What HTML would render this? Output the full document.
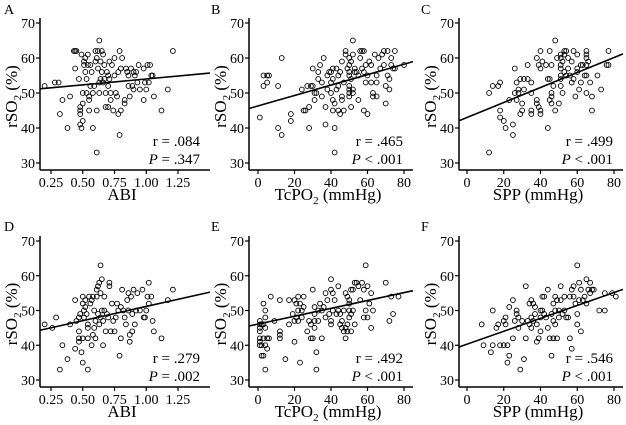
<!DOCTYPE html>
<html><head><meta charset="utf-8">
<style>
html,body{margin:0;padding:0;background:#fff;}
svg{display:block;font-family:"Liberation Serif",serif;}
</style></head>
<body>
<svg id="chart" width="626" height="425" viewBox="0 0 626 425" xmlns="http://www.w3.org/2000/svg"></svg>
<script>
// ---- data ----
const ptsA = [[0.2,52],[0.28,53],[0.31,53],[0.32,44],[0.34,48],[0.38,40],[0.40,49],[0.43,62],[0.44,62],[0.44,57],[0.45,62],[0.47,54],[0.48,46],[0.48,45],[0.48,44],[0.48,41],[0.49,40],[0.49,61],[0.50,50],[0.50,47],[0.50,42],[0.51,59],[0.51,58],[0.52,60],[0.52,56],[0.53,54],[0.53,50],[0.54,61],[0.54,58],[0.55,49],[0.55,48],[0.55,45],[0.56,58],[0.56,52],[0.57,56],[0.58,40],[0.58,50],[0.59,52],[0.60,62],[0.60,59],[0.61,60],[0.61,45],[0.61,33],[0.62,62],[0.62,57],[0.63,65],[0.63,53],[0.63,50],[0.64,59],[0.64,54],[0.65,62],[0.65,56],[0.66,61],[0.66,53],[0.67,58],[0.67,54],[0.68,46],[0.68,50],[0.69,56],[0.70,55],[0.70,46],[0.70,52],[0.71,59],[0.71,54],[0.72,48],[0.72,50],[0.73,58],[0.74,45],[0.75,60],[0.75,55],[0.76,50],[0.77,49],[0.78,56],[0.78,44],[0.79,62],[0.79,38],[0.80,45],[0.80,57],[0.81,60],[0.83,48],[0.83,47],[0.84,57],[0.85,56],[0.86,52],[0.86,55],[0.87,49],[0.88,57],[0.89,52],[0.90,56],[0.90,51],[0.91,55],[0.92,56],[0.93,53],[0.94,58],[0.95,51],[0.98,57],[0.98,48],[0.99,53],[1.00,51],[1.01,58],[1.02,53],[1.03,58],[1.04,55],[1.05,55],[1.06,49],[1.12,45],[1.17,51],[1.21,62]];
const ptsB = [[1,43],[3,55],[3,52],[5,53],[5,55],[6,55],[11,52],[11,40],[13,60],[13,38],[18,44],[18,42],[24,51],[25,45],[26,45],[27,52],[28,46],[28,40],[29,52],[30,57],[30,52],[31,50],[31,48],[32,50],[33,56],[33,54],[34,58],[35,49],[35,53],[36,60],[37,46],[37,41],[38,51],[38,55],[39,56],[40,56],[40,53],[40,50],[41,57],[41,54],[41,48],[41,45],[42,47],[42,33],[42,40],[43,51],[43,57],[44,55],[44,52],[44,45],[45,44],[45,56],[46,59],[46,49],[46,48],[47,45],[47,53],[48,62],[48,61],[49,57],[50,60],[50,58],[50,56],[50,55],[50,52],[50,51],[50,50],[50,49],[51,46],[51,59],[51,54],[52,65],[52,61],[52,51],[52,50],[53,56],[53,57],[54,56],[55,48],[55,55],[56,62],[56,60],[57,62],[57,57],[58,62],[58,56],[58,45],[59,53],[59,58],[60,44],[60,55],[61,59],[62,58],[62,53],[63,49],[63,50],[64,61],[65,53],[65,55],[65,49],[66,60],[67,57],[68,61],[69,62],[69,58],[70,52],[70,47],[71,62],[71,55],[72,54],[72,51],[73,58],[73,60],[74,57],[75,62],[75,57],[80,58]];
const ptsC = [[12,50],[12,33],[14,52],[17,52],[18,53],[18,45],[18,43],[20,42],[21,40],[23,48],[25,41],[25,38],[26,57],[26,50],[27,53],[27,48],[28,50],[28,51],[29,54],[29,44],[30,47],[30,45],[31,54],[31,51],[33,58],[33,54],[35,53],[35,50],[35,45],[35,44],[38,60],[38,48],[38,47],[39,58],[39,46],[40,62],[40,57],[40,45],[40,44],[41,59],[43,58],[44,54],[44,40],[45,62],[45,54],[45,48],[46,58],[46,50],[46,49],[46,47],[47,52],[48,65],[48,45],[49,60],[50,47],[51,61],[51,60],[51,58],[51,57],[51,55],[51,54],[51,52],[52,50],[52,59],[53,62],[53,61],[53,56],[54,62],[54,55],[55,60],[55,57],[56,55],[57,59],[57,53],[58,62],[58,54],[59,49],[60,61],[60,57],[60,56],[61,51],[62,53],[62,58],[63,58],[64,55],[65,62],[65,61],[65,60],[65,58],[65,55],[65,50],[66,59],[67,53],[68,49],[68,45],[71,55],[73,51],[76,58],[77,62],[77,58]];
const ptsD = [[0.2,46],[0.26,45],[0.29,48],[0.32,33],[0.34,40],[0.38,36],[0.40,46],[0.44,53],[0.44,39],[0.45,47],[0.47,48],[0.47,44],[0.47,42],[0.47,41],[0.48,49],[0.49,38],[0.50,54],[0.50,52],[0.50,42],[0.50,35],[0.51,50],[0.51,48],[0.52,53],[0.52,51],[0.53,49],[0.54,46],[0.54,45],[0.54,42],[0.54,33],[0.55,54],[0.56,52],[0.57,53],[0.57,40],[0.58,54],[0.58,43],[0.59,50],[0.59,45],[0.60,47],[0.60,42],[0.61,56],[0.61,54],[0.62,57],[0.62,49],[0.63,58],[0.63,46],[0.64,63],[0.64,55],[0.64,48],[0.65,59],[0.65,50],[0.66,47],[0.66,40],[0.67,54],[0.67,50],[0.68,44],[0.69,49],[0.70,48],[0.71,58],[0.71,57],[0.72,44],[0.73,52],[0.74,47],[0.75,44],[0.76,48],[0.77,52],[0.78,50],[0.79,37],[0.80,51],[0.80,42],[0.81,56],[0.82,50],[0.83,48],[0.84,46],[0.85,53],[0.86,50],[0.86,55],[0.87,43],[0.87,41],[0.88,54],[0.89,49],[0.89,44],[0.90,56],[0.91,46],[0.92,50],[0.93,55],[0.95,50],[0.97,56],[0.98,48],[0.99,48],[1.00,50],[1.01,54],[1.02,58],[1.02,52],[1.04,54],[1.05,47],[1.06,44],[1.12,42],[1.17,53],[1.21,56]];
const ptsE = [[1,47],[1,46],[1,45],[1,44],[1,42],[1,41],[1,40],[2,46],[2,40],[2,37],[3,52],[3,46],[3,42],[3,37],[4,50],[4,48],[4,45],[4,40],[4,33],[5,42],[5,39],[6,42],[7,54],[9,47],[12,53],[12,44],[12,43],[12,42],[15,36],[17,53],[17,46],[19,49],[20,53],[20,47],[20,41],[21,52],[21,48],[22,54],[22,50],[22,47],[23,52],[23,35],[24,50],[24,48],[25,54],[25,51],[27,44],[28,47],[29,46],[29,42],[30,56],[30,42],[31,51],[31,49],[31,47],[31,45],[32,38],[32,33],[33,50],[33,47],[34,52],[35,50],[35,42],[36,51],[37,55],[37,48],[38,53],[39,49],[40,59],[40,56],[40,47],[40,46],[41,55],[41,50],[42,53],[43,49],[44,57],[44,50],[45,46],[45,49],[46,47],[46,45],[47,50],[47,44],[48,55],[48,42],[48,45],[49,54],[49,46],[49,44],[50,53],[50,52],[50,50],[50,48],[51,56],[51,49],[51,44],[52,56],[52,50],[53,58],[53,46],[54,58],[55,57],[56,53],[57,58],[58,48],[58,56],[59,63],[59,50],[60,48],[60,57],[61,52],[62,55],[62,45],[63,50],[70,58],[72,47],[73,54],[74,49],[77,54]];
const ptsF = [[8,46],[9,40],[13,38],[14,50],[14,40],[16,45],[17,46],[18,40],[20,40],[20,47],[21,48],[21,46],[22,40],[22,35],[23,51],[23,37],[25,53],[25,42],[26,47],[27,50],[27,49],[28,48],[28,45],[29,33],[30,47],[31,36],[32,57],[32,42],[33,47],[34,52],[34,46],[35,53],[35,48],[35,45],[36,52],[36,47],[37,51],[37,49],[38,41],[38,46],[39,42],[40,50],[40,48],[40,44],[41,54],[41,50],[42,54],[42,49],[43,48],[44,56],[44,45],[45,42],[46,49],[46,37],[47,52],[47,47],[47,42],[48,54],[48,50],[48,46],[49,53],[49,42],[50,50],[50,48],[51,57],[51,53],[52,49],[53,54],[53,50],[54,48],[55,48],[56,42],[56,54],[57,56],[57,39],[58,57],[58,54],[59,52],[60,63],[60,49],[60,46],[61,58],[61,53],[62,56],[62,44],[63,53],[64,54],[65,59],[65,52],[66,56],[67,58],[67,55],[68,56],[69,56],[72,50],[75,50],[75,55],[79,55],[81,54]];
// regression [intercept, slope]
const fitA = [50.65, 3.36];
const fitB = [46.3, 0.149];
const fitC = [43.0, 0.214];
const fitD = [42.97, 8.2];
const fitE = [46.1, 0.113];
const fitF = [40.3, 0.186];
const yTicks = [30, 40, 50, 60, 70];
const abiTicks = [0.25, 0.5, 0.75, 1.0, 1.25];
const abiLabels = ["0.25", "0.50", "0.75", "1.00", "1.25"];
const mmTicks = [0, 20, 40, 60, 80];
const mmLabels = ["0", "20", "40", "60", "80"];
const statsR = ["r = .084", "r = .465", "r = .499", "r = .279", "r = .492", "r = .546"];
const statsP = [" = .347", " < .001", " < .001", " = .002", " < .001", " < .001"];

const NS = "http://www.w3.org/2000/svg";
const svg = document.getElementById("chart");
function mk(tag, attrs, parent) {
  const e = document.createElementNS(NS, tag);
  for (const k in attrs) e.setAttribute(k, attrs[k]);
  (parent || svg).appendChild(e);
  return e;
}

const panels = [
  {letter:"A", pts:ptsA, fit:fitA, ax:40, right:210, x0v:0.25, x0p:51, x1v:1.25, x1p:178, xt:abiTicks, xl:abiLabels, xtitle:"ABI", top:true, lx:4},
  {letter:"B", pts:ptsB, fit:fitB, ax:249, right:413, x0v:0, x0p:258, x1v:80, x1p:404, xt:mmTicks, xl:mmLabels, xtitle:"TcPO2", top:true, lx:211},
  {letter:"C", pts:ptsC, fit:fitC, ax:459, right:623, x0v:0, x0p:467, x1v:80, x1p:614, xt:mmTicks, xl:mmLabels, xtitle:"SPP", top:true, lx:421},
  {letter:"D", pts:ptsD, fit:fitD, ax:40, right:210, x0v:0.25, x0p:51, x1v:1.25, x1p:178, xt:abiTicks, xl:abiLabels, xtitle:"ABI", top:false, lx:4},
  {letter:"E", pts:ptsE, fit:fitE, ax:249, right:413, x0v:0, x0p:258, x1v:80, x1p:404, xt:mmTicks, xl:mmLabels, xtitle:"TcPO2", top:false, lx:211},
  {letter:"F", pts:ptsF, fit:fitF, ax:459, right:623, x0v:0, x0p:467, x1v:80, x1p:614, xt:mmTicks, xl:mmLabels, xtitle:"SPP", top:false, lx:421}
];

panels.forEach((p, i) => {
  const y70 = p.top ? 23 : 241;
  const y30 = p.top ? 163 : 380;
  const baseY = p.top ? 170 : 387;
  const sx = v => p.x0p + (v - p.x0v) * (p.x1p - p.x0p) / (p.x1v - p.x0v);
  const sy = v => y30 - (v - 30) * (y30 - y70) / 40;
  const g = mk("g", {});
  
  

  const lt = mk("text", {x:p.lx, y:(p.top?14:231), "font-size":14}, g);
  lt.textContent = p.letter;
  
  

  // axes
  const ya = mk("line", {x1:p.ax, y1:y70-5, x2:p.ax, y2:baseY, stroke:"#000", "stroke-width":1.5}, g);
  
  
  const xa = mk("line", {x1:p.ax, y1:baseY, x2:p.right, y2:baseY, stroke:"#000", "stroke-width":1.5}, g);
  
  

  yTicks.forEach(t => {
    const yy = sy(t);
    mk("line", {x1:p.ax-4, y1:yy, x2:p.ax, y2:yy, stroke:"#000", "stroke-width":1.2}, g);
    const tx = mk("text", {x:p.ax-5, y:yy+5, "font-size":14, "text-anchor":"end"}, g);
    tx.textContent = t;
    
    
  });
  p.xt.forEach((t, k) => {
    const xx = sx(t);
    mk("line", {x1:xx, y1:baseY, x2:xx, y2:baseY+4, stroke:"#000", "stroke-width":1.2}, g);
    const tx = mk("text", {x:xx, y:baseY+17, "font-size":14, "text-anchor":"middle"}, g);
    tx.textContent = p.xl[k];
    
    
  });

  // y title
  const cy = (y70 + baseY) / 2;
  const yt = mk("text", {x:0, y:0, "font-size":17, "text-anchor":"middle", transform:`translate(${p.ax-23},${cy}) rotate(-90)`}, g);
  yt.innerHTML = 'rSO<tspan font-size="11" dy="4">2</tspan><tspan dy="-4"> (%)</tspan>';
  
  

  // x title
  const xtt = mk("text", {x:(p.ax + p.right)/2 - 3, y:baseY+30, "font-size":17, "text-anchor":"middle"}, g);
  if (p.xtitle === "TcPO2") xtt.innerHTML = 'TcPO<tspan font-size="11" dy="4">2</tspan><tspan dy="-4"> (mmHg)</tspan>';
  else if (p.xtitle === "SPP") xtt.textContent = 'SPP (mmHg)';
  else xtt.textContent = 'ABI';
  
  

  // points
  p.pts.forEach(d => {
    const c = mk("circle", {cx:sx(d[0]), cy:sy(d[1]), r:2.4, fill:"none", stroke:"#000", "stroke-width":0.9}, g);
    
    
  });

  // fit line
  const xl = p.x0v + (p.ax - p.x0p) * (p.x1v - p.x0v) / (p.x1p - p.x0p);
  const xr = p.x0v + (p.right - p.x0p) * (p.x1v - p.x0v) / (p.x1p - p.x0p);
  const fl = mk("line", {x1:sx(xl), y1:sy(p.fit[0] + p.fit[1]*xl), x2:sx(xr), y2:sy(p.fit[0] + p.fit[1]*xr), stroke:"#000", "stroke-width":1.6}, g);
  
  

  // stats
  const r = mk("text", {x:p.right-10, y:baseY-24, "font-size":15, "text-anchor":"end"}, g);
  r.textContent = statsR[i];
  
  
  const pv = mk("text", {x:p.right-10, y:baseY-6, "font-size":15, "text-anchor":"end"}, g);
  pv.innerHTML = '<tspan font-style="italic">P</tspan>' + statsP[i];
  
  
});
</script>
</body></html>
